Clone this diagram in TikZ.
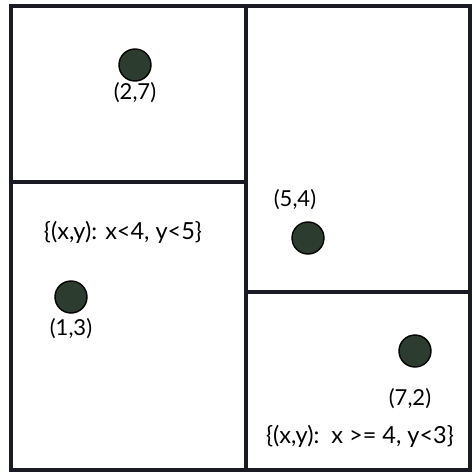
\documentclass[tikz,border=0pt]{standalone}
\usepackage{fontspec}
\setmainfont{Lato}
\usepackage{xcolor}
\usetikzlibrary{positioning}
\definecolor{lineink}{HTML}{1A1A24}
\definecolor{dotfill}{HTML}{2C3C2E}

\begin{document}
\begin{tikzpicture}[
      x=1pt, y=-1pt,
      node distance=4pt,
      wall/.style={draw=lineink, line width=3.2pt},
      pt/.style={circle, draw=black, line width=1.4pt, fill=dotfill, minimum size=32pt, inner sep=0pt},
      lbl/.style={font=\fontsize{22}{25}\selectfont, text=black, inner sep=1pt},
      region/.style={lbl, font=\fontsize{23.5}{26}\selectfont}
  ]
  \useasboundingbox (0,0) rectangle (475,474);
  % Regions
  \draw[wall] (11,6) rectangle (470,470);
  \coordinate (vtop) at (246,6);
  \coordinate (vbot) at (246,470);
  \draw[wall] (vtop) -- (vbot);
  \draw[wall] (11,182) -- (246,182);
  \draw[wall] (246,292) -- (470,292);
  % Points
  \node[pt] (p27) at (135,65) {};
  \node[pt] (p54) at (308,238) {};
  \node[pt] (p13) at (71,297) {};
  \node[pt] (p72) at (415,351) {};
  % Labels
  \node[lbl, below=0pt of p27] (l27) {(2,7)};
  \node[lbl, above=10pt of p54, xshift=-13pt] (l54) {(5,4)};
  \node[lbl, below=4pt of p13] (l13) {(1,3)};
  \node[lbl, below=20pt of p72, xshift=-5pt] (l72) {(7,2)};
  \node[region] (r1) at (123,232) {\{(x,y): x<4, y<5\}};
  \node[region] (r2) at (360,436) {\{(x,y):\ \ x >= 4, y<3\}};
\end{tikzpicture}
\end{document}
